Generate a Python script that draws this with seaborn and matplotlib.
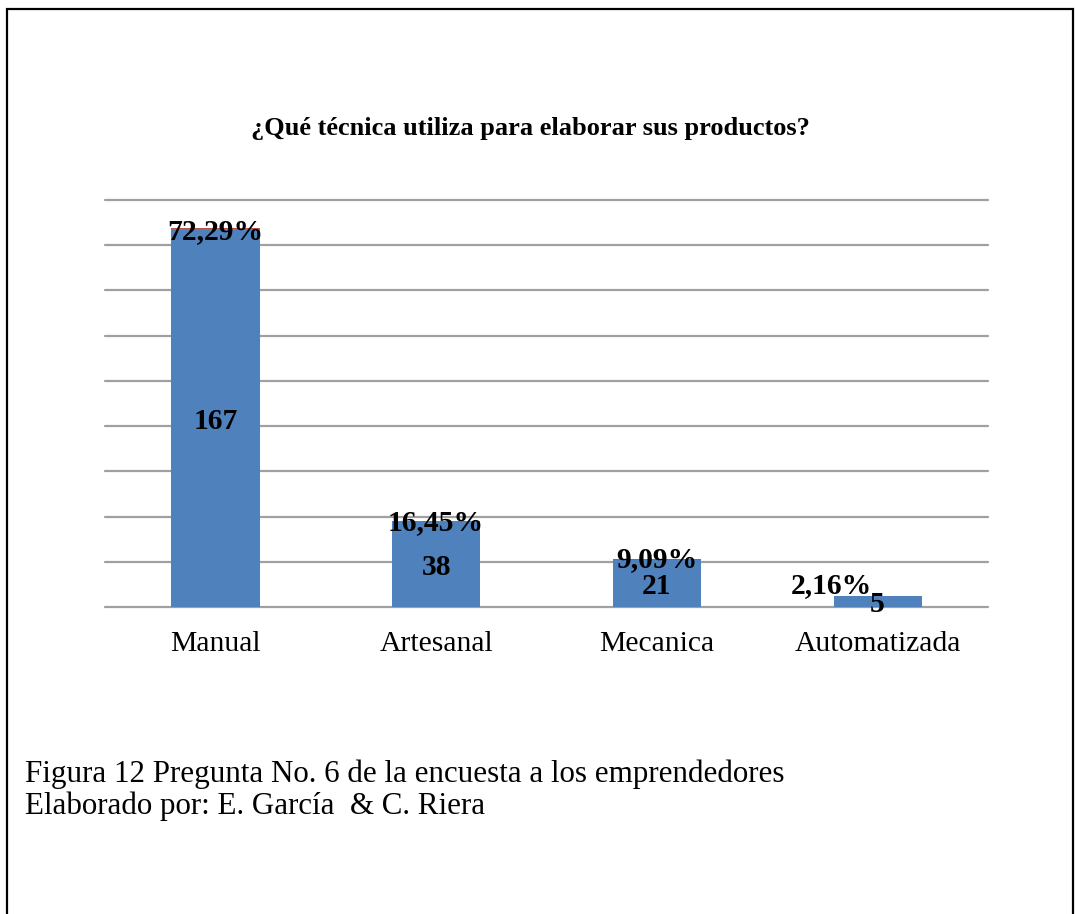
import pandas as pd
import matplotlib.pyplot as plt
import seaborn as sns
from matplotlib.patches import Rectangle

# Survey answers: technique used to make the products
categories = ['Manual', 'Artesanal', 'Mecanica', 'Automatizada']
counts = [167, 38, 21, 5]
percents = [72.29, 16.45, 9.09, 2.16]
pct_labels = ['72,29%', '16,45%', '9,09%', '2,16%']

df = pd.DataFrame({'Tecnica': categories, 'Count': counts, 'Pct': percents})
# the percentage series is stacked on top of the count series (value as fraction)
df['Total'] = df['Count'] + df['Pct'] / 100

sns.set_style('white')
plt.rcParams['font.family'] = ['Liberation Serif', 'DejaVu Serif']
plt.rcParams['text.color'] = 'black'
plt.rcParams['xtick.color'] = 'black'

fig = plt.figure(figsize=(10.75, 9.14), dpi=100)
ax = fig.add_axes([0.0977, 0.3359, 0.8214, 0.4453])

sns.barplot(data=df, x='Tecnica', y='Total', color='#C0504D', width=0.4,
            saturation=1, linewidth=0, ax=ax, zorder=2)
sns.barplot(data=df, x='Tecnica', y='Count', color='#4F81BD', width=0.4,
            saturation=1, linewidth=0, ax=ax, zorder=3)

ax.set_ylim(0, 180)
ax.set_xlim(-0.5, 3.5)
ax.set_yticks(range(0, 181, 20))
ax.yaxis.grid(True, color='#A0A0A0', linewidth=1.6)
for gl in ax.get_ygridlines():
    gl.set_clip_on(False)
ax.set_axisbelow(True)
ax.tick_params(axis='y', left=False, labelleft=False)
ax.tick_params(axis='x', bottom=False, labelsize=21.3, pad=14)
for s in ax.spines.values():
    s.set_visible(False)
ax.set_xlabel('')
ax.set_ylabel('')

# labels: count in the middle of the blue bar, percent at the top of the stack
pct_dx = [0, 0, 0, -0.21]
pct_dy = [-1.5, -1, 0, 4.5]
for i, (c, t) in enumerate(zip(counts, df['Total'])):
    ax.text(i, c / 2 - 1.5, str(c), ha='center', va='center',
            fontsize=21.3, fontweight='bold', zorder=5)
    ax.text(i + pct_dx[i], t + pct_dy[i], pct_labels[i], ha='center', va='center',
            fontsize=21.3, fontweight='bold', zorder=5)

fig.text(0.4935, 0.859, '¿Qué técnica utiliza para elaborar sus productos?',
         ha='center', va='center', fontsize=19, fontweight='bold')

fig.text(0.023, 0.153, 'Figura 12 Pregunta No. 6 de la encuesta a los emprendedores',
         ha='left', va='center', fontsize=22.3)
fig.text(0.023, 0.118, 'Elaborado por: E. García  & C. Riera',
         ha='left', va='center', fontsize=22.3)

# page frame
fig.patches.append(Rectangle((7 / 1075, -0.02), (1073 - 7) / 1075, 1.02 - 9 / 914,
                             transform=fig.transFigure, fill=False,
                             edgecolor='black', linewidth=1.6))

fig.savefig('out.png', dpi=100)
